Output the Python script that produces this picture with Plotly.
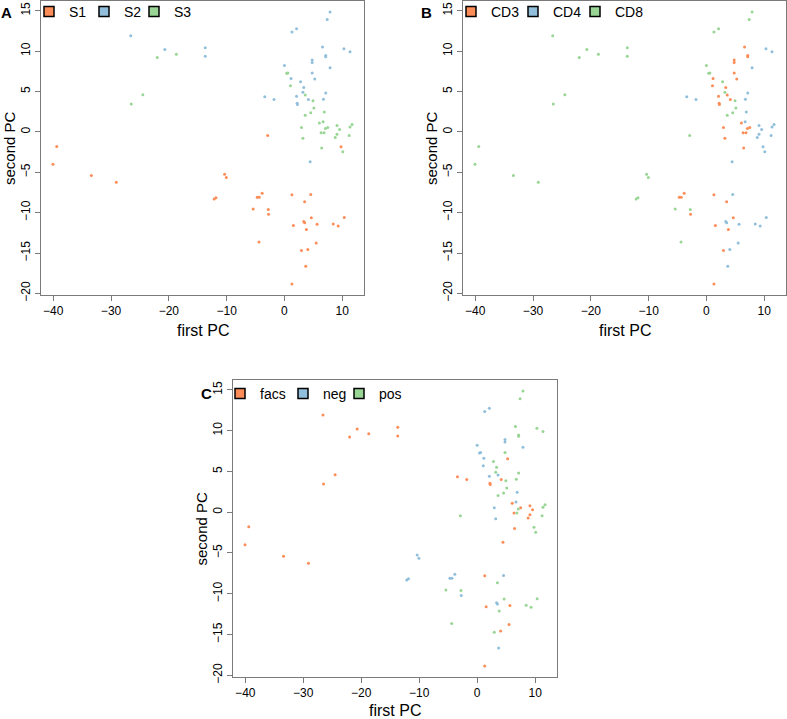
import plotly.graph_objects as go

# ---- data ----
pc1 = [-26.6, -20.7, -22.0, -18.7, -24.5, -26.5, -13.7, -13.7, -39.4, -40.05, -33.4, -29.1,
       7.9, 7.4, 2.1, 1.3, 6.6, 10.3, 11.35, 4.8, 4.8, 7.15, 7.15, 7.9, 0.0, 0.4, 0.6, 1.15,
       4.8, 5.25, 2.8, 1.05, 3.35, 3.2, 3.6, -3.4, -1.8, 2.1, 4.15, 4.95, 7.15, 6.75, 2.2, 2.25,
       5.1, 6.9, 4.55, 3.6, 6.7, 6.05, 9.1, 11.7, 11.35, 2.95, 7.5, 7.1, 9.55, 6.35, 6.85, 9.1,
       8.8, 11.2, 3.2, -2.9, 9.8, 10.1, 6.45, 4.45,
       -10.35, -10.05, -12.15, -11.85, -3.85, -4.7, -4.35, 1.3, 4.55, 3.5, -5.4, -2.8, -2.75,
       4.65, 3.35, 3.5, 1.55, 3.8, 5.65, 8.45, 9.3, 10.35, -4.4, 5.5, 2.95, 4.05, 3.7, 1.3]
pc2 = [11.9, 10.2, 9.2, 9.6, 4.6, 3.45, 10.4, 9.35, -1.8, -4.0, -5.4, -6.25,
       14.85, 13.9, 12.75, 12.35, 10.5, 10.3, 9.9, 8.9, 8.6, 9.45, 9.3, 7.95, 8.2, 7.25, 7.3, 6.6,
       7.3, 6.55, 6.2, 5.7, 5.5, 4.9, 4.55, 4.35, 4.0, 4.4, 4.0, 3.85, 4.8, 4.05, 3.55, 3.4,
       2.95, 2.45, 2.35, 2.05, 1.25, 1.1, 0.8, 0.9, 0.6, 0.55, 0.55, 0.4, 0.3, -0.1, -0.1, -0.3,
       -0.7, -0.45, -0.8, -0.45, -1.85, -2.45, -2.0, -3.7,
       -5.25, -5.65, -8.3, -8.15, -7.6, -8.1, -8.1, -7.8, -7.75, -8.65, -9.55, -9.6, -10.2,
       -10.65, -11.1, -11.25, -11.6, -12.1, -11.45, -11.4, -11.65, -10.6, -13.65, -13.75, -14.7,
       -14.55, -16.65, -18.85]
sample = ["S2", "S2", "S3", "S3", "S3", "S3", "S2", "S2", "S1", "S1", "S1", "S1",
          "S2", "S2", "S2", "S2", "S2", "S2", "S2", "S2", "S2", "S2", "S2", "S2", "S2", "S3", "S3", "S2",
          "S2", "S2", "S2", "S3", "S2", "S2", "S3", "S2", "S2", "S2", "S2", "S3", "S2", "S2", "S2", "S2",
          "S3", "S3", "S3", "S3", "S3", "S3", "S3", "S3", "S3", "S3", "S3", "S3", "S3", "S3", "S3", "S3",
          "S3", "S3", "S3", "S1", "S1", "S3", "S3", "S2",
          "S1", "S1", "S1", "S1", "S1", "S1", "S1", "S1", "S1", "S1", "S1", "S1", "S1",
          "S1", "S1", "S1", "S1", "S1", "S1", "S1", "S1", "S1", "S1", "S1", "S1", "S1", "S1", "S1"]
celltype = ["CD8", "CD8", "CD8", "CD8", "CD8", "CD8", "CD8", "CD8", "CD8", "CD8", "CD8", "CD8",
            "CD8", "CD8", "CD8", "CD8", "CD3", "CD4", "CD4", "CD3", "CD3", "CD3", "CD3", "CD4", "CD8", "CD8", "CD8", "CD3",
            "CD3", "CD3", "CD8", "CD3", "CD3", "CD8", "CD3", "CD4", "CD4", "CD3", "CD3", "CD8", "CD4", "CD4", "CD3", "CD3",
            "CD8", "CD4", "CD8", "CD8", "CD4", "CD3", "CD4", "CD4", "CD4", "CD3", "CD3", "CD3", "CD4", "CD3", "CD3", "CD4",
            "CD4", "CD4", "CD3", "CD8", "CD4", "CD4", "CD3", "CD4",
            "CD8", "CD8", "CD8", "CD8", "CD3", "CD3", "CD3", "CD3", "CD4", "CD3", "CD8", "CD8", "CD3",
            "CD3", "CD4", "CD4", "CD3", "CD3", "CD4", "CD4", "CD4", "CD4", "CD8", "CD4", "CD3", "CD4", "CD4", "CD3"]
method = ["facs", "facs", "facs", "facs", "facs", "facs", "facs", "facs", "facs", "facs", "facs", "facs",
          "pos", "pos", "neg", "neg", "pos", "pos", "pos", "neg", "neg", "pos", "pos", "neg", "neg", "neg", "neg", "neg",
          "pos", "facs", "pos", "neg", "pos", "pos", "neg", "facs", "facs", "neg", "facs", "pos", "pos", "pos", "facs", "facs",
          "pos", "neg", "pos", "pos", "neg", "facs", "facs", "pos", "pos", "neg", "facs", "pos", "facs", "facs", "pos", "facs",
          "facs", "pos", "neg", "pos", "pos", "pos", "facs", "facs",
          "neg", "neg", "neg", "neg", "neg", "neg", "neg", "facs", "neg", "pos", "pos", "pos", "neg",
          "pos", "neg", "neg", "facs", "pos", "facs", "pos", "pos", "pos", "pos", "facs", "pos", "facs", "neg", "facs"]

panels = [
    ("A", sample, ["S1", "S2", "S3"]),
    ("B", celltype, ["CD3", "CD4", "CD8"]),
    ("C", method, ["facs", "neg", "pos"]),
]
palette = ["#FC8D59", "#91BFDB", "#99D594"]

W, H = 787, 719
FONT = "Liberation Sans, Arial, Helvetica, sans-serif"

# panel plot boxes in pixels: (left, right, top, bottom)
boxes = [(41, 364, 1, 295), (463, 786, 1, 295), (233, 557, 380, 677)]
# legend swatch centres (px) for each panel, and legend row centre y
swatch_x = [[57, 112, 162], [479, 541, 603], [248, 311, 367]]
swatch_y = [12, 12, 394]
letter_pos = [(6.5, 12), (427, 12), (206, 393)]
xlab_dy = [36, 36, 33]

xmin, xmax = min(pc1), max(pc1)
ymin, ymax = min(pc2), max(pc2)
xpad = (xmax - xmin) * 0.04
ypad = (ymax - ymin) * 0.04
xr = [xmin - xpad, xmax + xpad]
yr = [ymin - ypad, ymax + ypad]

fig = go.Figure()
layout = dict(width=W, height=H, margin=dict(l=0, r=0, t=0, b=0, autoexpand=False), autosize=False,
              paper_bgcolor="white", plot_bgcolor="white",
              font=dict(family=FONT, color="black"), annotations=[])

leg_idx = 0
for i, (letter, groups, levels) in enumerate(panels):
    sfx = "" if i == 0 else str(i + 1)
    xa, ya = "x" + sfx, "y" + sfx
    for lv, col in zip(levels, palette):
        xs = [a for a, g in zip(pc1, groups) if g == lv]
        ys = [b for b, g in zip(pc2, groups) if g == lv]
        fig.add_trace(go.Scatter(x=xs, y=ys, mode="markers", xaxis=xa, yaxis=ya,
                                 marker=dict(size=3, color=col, line=dict(width=0)),
                                 showlegend=False, hoverinfo="skip"))
    for j, (lv, col) in enumerate(zip(levels, palette)):
        leg_idx += 1
        lname = "legend" if leg_idx == 1 else "legend%d" % leg_idx
        fig.add_trace(go.Scatter(x=[None], y=[None], mode="markers", xaxis=xa, yaxis=ya,
                                 name=lv, legend=lname,
                                 marker=dict(symbol="square", size=10, color=col,
                                             line=dict(width=1.5, color="black"))))
        layout[lname] = dict(orientation="h", x=(swatch_x[i][j] - 28) / W, y=1 - swatch_y[i] / H,
                             xanchor="left", yanchor="middle", bgcolor="rgba(0,0,0,0)",
                             font=dict(size=14, family=FONT), itemwidth=30)
    l, r, t, b = boxes[i]
    axis_common = dict(showgrid=False, zeroline=False, showline=True, mirror=True,
                       linecolor="#7a7a7a", linewidth=1, ticks="outside", ticklen=5,
                       tickcolor="#7a7a7a", tickfont=dict(size=12, family=FONT, color="black"))
    layout["xaxis" + sfx] = dict(axis_common, domain=[l / W, r / W], range=xr, anchor=ya,
                                 tickvals=[-40, -30, -20, -10, 0, 10],
                                 ticktext=["\u221240", "\u221230", "\u221220", "\u221210", "0", "10"])
    layout["yaxis" + sfx] = dict(axis_common, domain=[1 - b / H, 1 - t / H], range=yr, anchor=xa,
                                 tickvals=[-20, -15, -10, -5, 0, 5, 10, 15],
                                 ticktext=["\u221220", "\u221215", "\u221210", "\u22125", "0", "5", "10", "15"],
                                 tickangle=-90)
    lx, ly = letter_pos[i]
    layout["annotations"].append(dict(text="<b>%s</b>" % letter, xref="paper", yref="paper",
                                      x=lx / W, y=1 - ly / H, showarrow=False,
                                      font=dict(size=15, family=FONT), xanchor="center", yanchor="middle"))
    layout["annotations"].append(dict(text="first PC", xref="paper", yref="paper",
                                      x=(l + r) / 2 / W, y=1 - (b + xlab_dy[i]) / H, showarrow=False,
                                      font=dict(size=16, family=FONT), xanchor="center", yanchor="middle"))
    layout["annotations"].append(dict(text="second PC", xref="paper", yref="paper",
                                      x=(l - 32) / W, y=1 - (t + b) / 2 / H, showarrow=False, textangle=-90,
                                      font=dict(size=15, family=FONT), xanchor="center", yanchor="middle"))

fig.update_layout(**layout)
fig.write_html("out.html", config={"displayModeBar": False},
               post_script="document.body.style.margin='0px';document.body.style.overflow='hidden';")
